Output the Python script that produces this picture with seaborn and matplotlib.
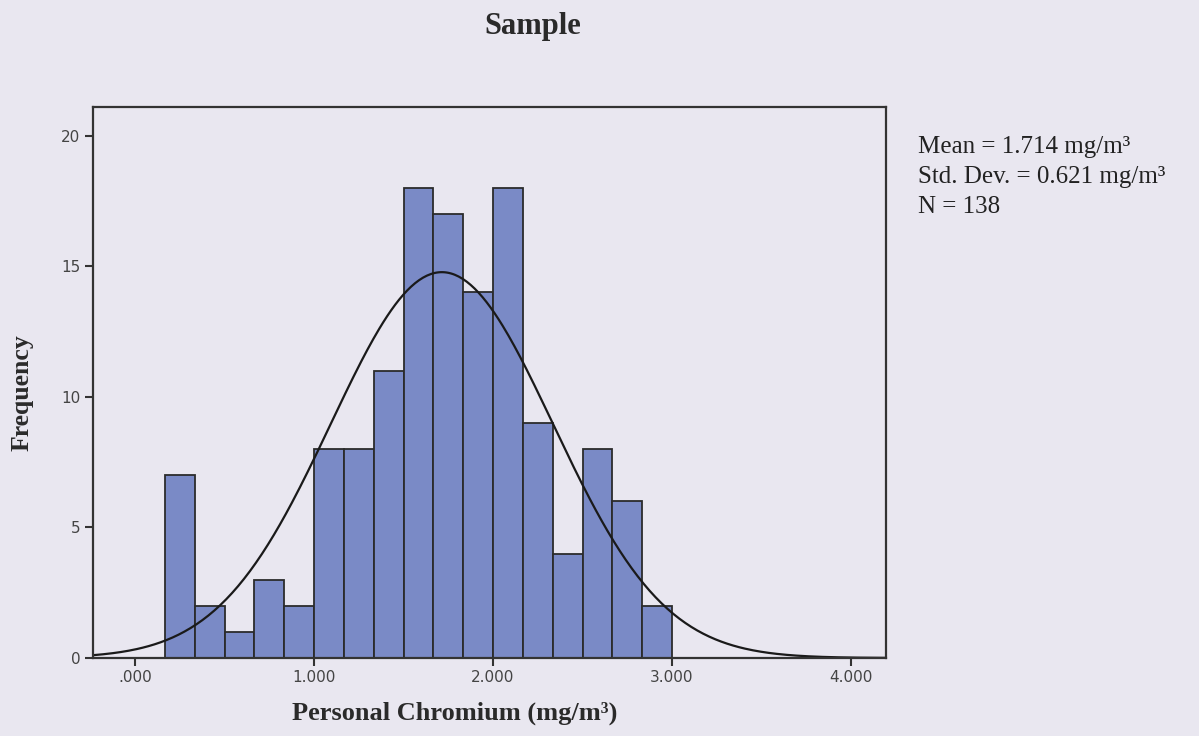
import numpy as np
import pandas as pd
import matplotlib
matplotlib.use("Agg")
import matplotlib.pyplot as plt
import seaborn as sns

# ---- data ----
bin_left_edges = [1/6, 2/6, 3/6, 4/6, 5/6, 6/6, 7/6, 8/6, 9/6, 10/6, 11/6, 12/6,
                  13/6, 14/6, 15/6, 16/6, 17/6]
bin_width = 1/6
counts = [7, 2, 1, 3, 2, 8, 8, 11, 18, 17, 14, 18, 9, 4, 8, 6, 2]
mean_val = 1.714
std_val = 0.621
n_val = 138
x_ticks = [0, 1, 2, 3, 4]
x_tick_labels = [".000", "1.000", "2.000", "3.000", "4.000"]
y_ticks = [0, 5, 10, 15, 20]
title = "Sample"
x_label = "Personal Chromium (mg/m³)"
y_label = "Frequency"
stats_lines = ["Mean = 1.714 mg/m³", "Std. Dev. = 0.621 mg/m³", "N = 138"]

sns.set_style("white")
plt.rcParams["font.family"] = ["DejaVu Sans"]

bg = "#e9e7f0"
fig = plt.figure(figsize=(11.99, 7.36), dpi=100, facecolor=bg)
ax = fig.add_axes([0.0776, 0.106, 0.6614, 0.7486])
ax.set_facecolor(bg)

df = pd.DataFrame({"center": np.array(bin_left_edges) + bin_width / 2, "count": counts})
edges = list(bin_left_edges) + [bin_left_edges[-1] + bin_width]
sns.histplot(data=df, x="center", weights="count", bins=edges, ax=ax,
             color="#7a8ac6", alpha=1.0, edgecolor="#2b2b2b", linewidth=1.3)

xs = np.linspace(-0.235, 4.196, 400)
ys = n_val * bin_width * np.exp(-0.5 * ((xs - mean_val) / std_val) ** 2) / (std_val * np.sqrt(2 * np.pi))
sns.lineplot(x=xs, y=ys, ax=ax, color="#1a1a1a", linewidth=1.6)

ax.set_xlim(-0.235, 4.196)
ax.set_ylim(0, 21.1)
ax.set_xticks(x_ticks)
ax.set_xticklabels(x_tick_labels)
ax.set_yticks(y_ticks)
ax.tick_params(axis="both", direction="out", length=6, width=1.5, color="#333333",
               labelsize=11, labelcolor="#444444", bottom=True, left=True, pad=3)
for s in ax.spines.values():
    s.set_color("#333333")
    s.set_linewidth(1.6)
ax.set_xlabel("")
ax.set_ylabel("")

serif = ["Liberation Serif", "DejaVu Serif"]
fig.text(0.3795, 0.031, x_label, ha="center", va="center", fontsize=19, fontweight="bold",
         family=serif, color="#2a2a2a")
fig.text(0.0185, 0.467, y_label, ha="center", va="center", rotation=90, fontsize=18.5,
         fontweight="bold", family=serif, color="#2a2a2a")
fig.text(0.4445, 0.964, title, ha="center", va="center", fontsize=22, fontweight="bold",
         family=serif, color="#2a2a2a")

y0 = 0.800
for i, line in enumerate(stats_lines):
    fig.text(0.7656, y0 - i * 0.0405, line, ha="left", va="center", fontsize=18,
             family=serif, color="#222222")

fig.savefig("out.png", dpi=100, facecolor=bg)
